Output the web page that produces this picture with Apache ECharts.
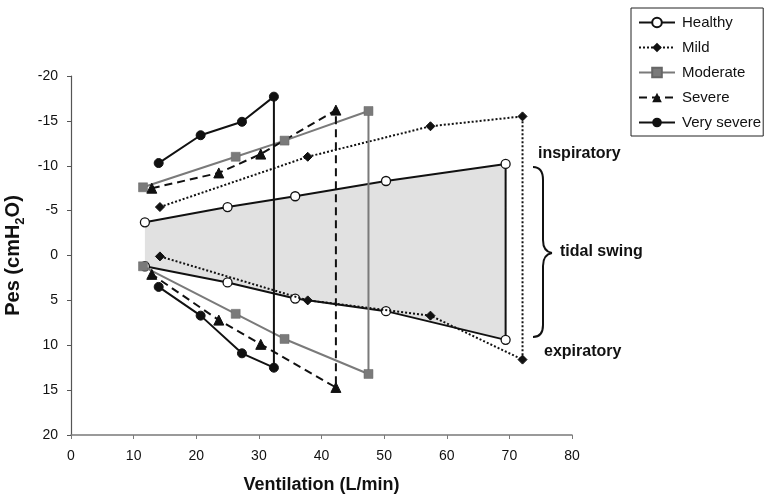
<!DOCTYPE html>
<html>
<head>
<meta charset="utf-8">
<script src="https://cdn.jsdelivr.net/npm/echarts@6/dist/echarts.min.js"></script>
<style>
  html, body { margin: 0; padding: 0; background: #fff; }
  #chart { width: 765px; height: 495px; }
</style>
</head>
<body>
<div id="chart"></div>
<script>
// Oesophageal pressure swings vs ventilation, by COPD severity.
// Each group: inspiratory (negative Pes) and expiratory (positive Pes) points.
const groupNames = ['Healthy', 'Mild', 'Moderate', 'Severe', 'Very severe'];

const ventHealthy = [11.8, 25.0, 35.8, 50.3, 69.4];
const inspHealthy = [-3.7, -5.4, -6.6, -8.3, -10.2];
const expHealthy  = [1.2, 3.0, 4.8, 6.2, 9.4];

const ventMild = [14.2, 37.8, 57.4, 72.1];
const inspMild = [-5.4, -11.0, -14.4, -15.5];
const expMild  = [0.1, 5.0, 6.7, 11.6];

const ventModerate = [11.5, 26.3, 34.1, 47.5];
const inspModerate = [-7.6, -11.0, -12.8, -16.1];
const expModerate  = [1.2, 6.5, 9.3, 13.2];

const ventSevere = [12.9, 23.6, 30.3, 42.3];
const inspSevere = [-7.5, -9.2, -11.3, -16.2];
const expSevere  = [2.1, 7.2, 9.9, 14.7];

const ventVerySevere = [14.0, 20.7, 27.3, 32.4];
const inspVerySevere = [-10.3, -13.4, -14.9, -17.7];
const expVerySevere  = [3.5, 6.7, 10.9, 12.5];

const xTicks = { min: 0, max: 80, step: 10 };
const yTicks = { min: -20, max: 20, step: 5 };

// Path through the inspiratory points left to right, then back along the expiratory points.
function loop(vent, insp, exp) {
  const out = vent.map((v, i) => [v, insp[i]]);
  for (let i = vent.length - 1; i >= 0; i--) out.push([vent[i], exp[i]]);
  return out;
}

const FONT = '"Liberation Sans", Arial, sans-serif';
const healthyLoop = loop(ventHealthy, inspHealthy, expHealthy);

function lineSeries(name, data, lineStyle, symbol, symbolSize, itemStyle, z) {
  return {
    type: 'line', name, data, symbol, symbolSize,
    showAllSymbol: true,
    lineStyle, itemStyle, z,
    emphasis: { disabled: true }
  };
}

// curly brace beside the healthy loop, pointing right
const braceStyle = { fill: null, stroke: '#111', lineWidth: 2 };
function curve(x1, y1, cx1, cy1, cx2, cy2, x2, y2) {
  return { type: 'bezierCurve', z: 10, shape: { x1, y1, cpx1: cx1, cpy1: cy1, cpx2: cx2, cpy2: cy2, x2, y2 }, style: braceStyle };
}
function seg(x1, y1, x2, y2) {
  return { type: 'line', z: 10, shape: { x1, y1, x2, y2 }, style: braceStyle };
}
const brace = [
  curve(533, 167, 540, 167, 543, 171, 543, 180),
  seg(543, 180, 543, 240),
  curve(543, 240, 543, 248, 546, 252, 552, 253),
  curve(552, 253, 546, 254, 543, 258, 543, 266),
  seg(543, 266, 543, 325),
  curve(543, 325, 543, 333, 540, 337, 533, 337)
];

const chart = echarts.init(document.getElementById('chart'), null, { renderer: 'canvas' });

chart.setOption({
  animation: false,
  textStyle: { fontFamily: FONT },
  grid: { left: 71, right: 193, top: 76, bottom: 60, containLabel: false, outerBoundsMode: 'none' },
  legend: {
    data: groupNames,
    orient: 'vertical',
    left: 631, top: 8,
    padding: [7, 2, 6, 7],
    borderColor: '#222', borderWidth: 1,
    itemWidth: 36, itemHeight: 12, itemGap: 10,
    textStyle: { fontFamily: FONT, fontSize: 15, color: '#111', padding: [0, 0, 0, 2] }
  },
  xAxis: {
    type: 'value',
    min: xTicks.min, max: xTicks.max, interval: xTicks.step,
    position: 'bottom',
    name: 'Ventilation (L/min)',
    nameLocation: 'middle', nameGap: 41,
    nameTextStyle: { fontFamily: FONT, fontSize: 18, fontWeight: 'bold', color: '#111' },
    axisLine: { onZero: false, lineStyle: { color: '#7a7a7a', width: 1.5 } },
    axisTick: { show: true, length: 4, lineStyle: { color: '#7a7a7a' } },
    axisLabel: { fontFamily: FONT, fontSize: 14, color: '#111', margin: 14 },
    splitLine: { show: false }
  },
  yAxis: {
    type: 'value',
    inverse: true,
    min: yTicks.min, max: yTicks.max, interval: yTicks.step,
    name: '{a|Pes (cmH}{b|2}{a|O)}',
    nameLocation: 'middle', nameGap: 35, nameRotate: 90,
    nameTextStyle: {
      rich: {
        a: { fontFamily: FONT, fontSize: 20, fontWeight: 'bold', color: '#111', lineHeight: 26 },
        b: { fontFamily: FONT, fontSize: 13, fontWeight: 'bold', color: '#111', lineHeight: 13, verticalAlign: 'bottom' }
      }
    },
    axisLine: { show: true, onZero: false, lineStyle: { color: '#555', width: 1.2 } },
    axisTick: { show: true, length: 4, lineStyle: { color: '#555' } },
    axisLabel: { fontFamily: FONT, fontSize: 14, color: '#111', margin: 13 },
    splitLine: { show: false }
  },
  series: [
    {
      // shaded tidal swing area of the healthy group
      type: 'custom',
      silent: true,
      z: 1,
      data: [0],
      renderItem: function (params, api) {
        const pts = healthyLoop.map(p => api.coord(p));
        return { type: 'polygon', shape: { points: pts }, style: { fill: '#e1e1e1', stroke: null } };
      }
    },
    lineSeries('Healthy', healthyLoop,
      { color: '#111', width: 2, type: 'solid' }, 'circle', 9,
      { color: '#fff', borderColor: '#111', borderWidth: 1.3 }, 3),
    lineSeries('Mild', loop(ventMild, inspMild, expMild),
      { color: '#111', width: 2, type: 'dotted' }, 'diamond', 9,
      { color: '#111', borderColor: '#111' }, 4),
    lineSeries('Moderate', loop(ventModerate, inspModerate, expModerate),
      { color: '#7a7a7a', width: 2, type: 'solid' }, 'rect', 9,
      { color: '#7a7a7a', borderColor: '#666', borderWidth: 0.5 }, 4),
    lineSeries('Severe', loop(ventSevere, inspSevere, expSevere),
      { color: '#111', width: 2, type: [8, 5] }, 'triangle', 10,
      { color: '#111', borderColor: '#111' }, 4),
    lineSeries('Very severe', loop(ventVerySevere, inspVerySevere, expVerySevere),
      { color: '#111', width: 2, type: 'solid' }, 'circle', 9,
      { color: '#111', borderColor: '#111' }, 4)
  ],
  graphic: brace.concat([
    { type: 'text', left: 538, top: 146, style: { text: 'inspiratory', font: 'bold 16px ' + FONT, fill: '#111' }, z: 10 },
    { type: 'text', left: 560, top: 244, style: { text: 'tidal swing', font: 'bold 16px ' + FONT, fill: '#111' }, z: 10 },
    { type: 'text', left: 544, top: 344, style: { text: 'expiratory', font: 'bold 16px ' + FONT, fill: '#111' }, z: 10 }
  ])
});
</script>
</body>
</html>
